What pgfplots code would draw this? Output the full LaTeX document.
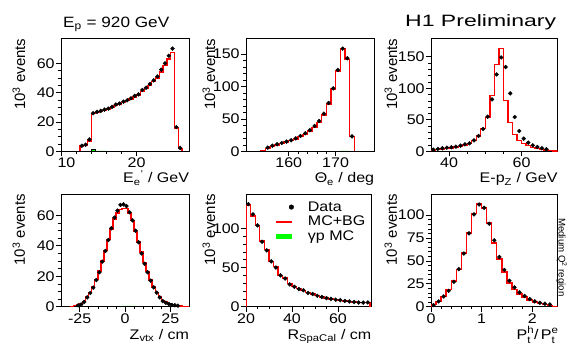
\documentclass[border=0pt]{standalone}
\usepackage{fontspec}
\setmainfont{Liberation Sans}[FakeStretch=1.15]
\newfontfamily\widefont{Liberation Sans}[FakeStretch=1.4]
\newfontfamily\plainfont{Liberation Sans}
\usepackage{pgfplots}
\pgfplotsset{compat=1.18}
\definecolor{mcred}{RGB}{255,0,0}
\definecolor{gpgreen}{RGB}{0,255,0}
\newcommand\tfont{\fontsize{14}{14}\selectfont}
\newcommand\ylfont{\plainfont\fontsize{15}{15}\selectfont}
\newcommand\ssz{\fontsize{10}{10}\selectfont}
\newcommand\supsub[2]{$\mbox{P}^{\mbox{\ssz #1}}_{\mbox{\ssz #2}}$}
\pgfplotsset{
  h1/.style={
    scale only axis, anchor=south west, ymin=0,
    axis line style={line width=0.8bp},
    tick style={black, line width=0.6bp},
    tick align=outside, tick pos=left,
    major tick length=5bp, minor tick length=2.7bp,
    /pgf/number format/assume math mode=true,
    tick label style={font=\tfont},
    xticklabel style={inner sep=1.5bp},
    yticklabel style={inner sep=1.2bp},
    xlabel style={font=\tfont, anchor=base east, inner sep=0pt},
    ylabel style={font=\ylfont, anchor=base east, inner sep=0pt},
    ylabel={10\textsuperscript{3} events},
  },
  mc/.style={draw=mcred, color=mcred, line width=1.4bp, const plot mark left, mark=none},
  dat/.style={only marks, mark=*, mark size=1.95bp, black},
  gp/.style={draw=black, fill=gpgreen, line width=0.4bp, const plot mark left, mark=none},
}
\begin{document}
\begin{tikzpicture}[x=1bp,y=1bp]
\path[use as bounding box] (0,0) rectangle (580,357);

% ---------------- Panel 1: E_e'
\begin{axis}[h1, at={(61bp,205.7bp)}, width=128.3bp, height=112.8bp,
  xmin=10, xmax=26.96, ymax=77,
  xtick={10,20}, xticklabels={\hspace*{11bp}10,20}, minor x tick num=4,
  ytick={0,20,40,60}, minor y tick num=3,
  xlabel={E\textsubscript{e}\textsuperscript{'} / GeV},
  xlabel style={at={(rel axis cs:1,-0.281)}},
  ylabel style={at={(rel axis cs:-0.2806,1)}}]
\addplot[gp] coordinates {(14,0)(14,1.3)(14.5,0.35)(16,0)} \closedcycle;
\addplot[mc] coordinates {(12.5,0)(12.5,3.5)(13,4)(13.5,7)(14,26)(14.5,26.5)(15,27.2)(15.5,28)(16,28.8)(16.5,29.8)(17,31.2)(17.5,32.2)(18,33.5)(18.5,34.5)(19,35.8)(19.5,37.2)(20,38.5)(20.5,41)(21,42.8)(21.5,45)(22,47.5)(22.5,50)(23,54)(23.5,58.5)(24,63)(24.5,67.5)(25,16)(25.5,2)(26,0)};
\addplot[dat] coordinates {(12.75,3.8)(13.25,4.5)(13.75,8.1)(14.25,26)(14.75,26.9)(15.25,27.6)(15.75,28.5)(16.25,29.2)(16.75,30.3)(17.25,31.9)(17.75,32.6)(18.25,33.9)(18.75,34.8)(19.25,36.2)(19.75,37.8)(20.25,38.9)(20.75,41.9)(21.25,43.4)(21.75,45.9)(22.25,48.4)(22.75,51.1)(23.25,55.7)(23.75,60)(24.25,65.2)(24.75,70.1)(25.25,16.5)(25.75,2.3)};
\end{axis}

% ---------------- Panel 2: Theta_e
\begin{axis}[h1, at={(246bp,205.7bp)}, width=128.3bp, height=112.8bp,
  xmin=150.87, xmax=178.26, ymax=173.8,
  xtick={160,170}, minor x tick num=4,
  ytick={0,50,100,150}, minor y tick num=4,
  xlabel={Θ\textsubscript{e} / deg},
  xlabel style={at={(rel axis cs:1,-0.281)}},
  ylabel style={at={(rel axis cs:-0.2416,1)}}]
\addplot[gp] coordinates {(171,0)(171,0.8)(172,0.8)(173,0)} \closedcycle;
\addplot[mc] coordinates {(154,0)(154,1.5)(155,4.5)(156,7.5)(157,10)(158,12)(159,14.5)(160,16.5)(161,19)(162,22.5)(163,26)(164,31)(165,37)(166,44)(167,56)(168,73)(169,96)(170,124)(171,158.5)(172,141.5)(173,23)(174,0)};
\addplot[dat] coordinates {(155.5,5.6)(156.5,8.7)(157.5,10.8)(158.5,12.8)(159.5,14.9)(160.5,16.9)(161.5,20)(162.5,23.6)(163.5,27.7)(164.5,32.4)(165.5,39)(166.5,46.7)(167.5,58)(168.5,74.5)(169.5,97)(170.5,125.3)(171.5,158.2)(172.5,143.3)(173.5,23.1)};
\end{axis}

% ---------------- Panel 3: E-pz
\begin{axis}[h1, at={(431bp,205.7bp)}, width=126.7bp, height=112.8bp,
  xmin=35, xmax=70, ymax=179,
  xtick={40,60}, minor x tick num=3,
  ytick={0,50,100,150}, minor y tick num=4,
  xlabel={E-p\textsubscript{Z} / GeV},
  xlabel style={at={(rel axis cs:1,-0.281)}},
  ylabel style={at={(rel axis cs:-0.268,1)}}]
\addplot[mc] coordinates {(35,0)(35,2)(36.25,2.8)(37.5,3.5)(38.75,4.5)(40,5.5)(41.25,6.8)(42.5,8)(43.75,10)(45,12.5)(46.25,17)(47.5,24)(48.75,36)(50,54)(51.25,88.7)(52.5,138)(53.75,163)(55,80.3)(56.25,45.4)(57.5,27)(58.75,17.4)(60,12.5)(61.25,9)(62.5,6.5)(63.75,4.5)(65,3)(66.25,2)(67.5,1)(68.75,0.3)(70,0)};
\addplot[dat] coordinates {(35.625,2.6)(36.875,3.7)(38.125,4.8)(39.375,5.8)(40.625,6.3)(41.875,7.4)(43.125,9)(44.375,11.1)(45.625,12.7)(46.875,17.4)(48.125,24.3)(49.375,35.4)(50.625,54.9)(51.875,82.4)(53.125,122)(54.375,149)(55.625,133.7)(56.875,91.9)(58.125,54.4)(59.375,32.2)(60.625,20.1)(61.875,13.7)(63.125,9.5)(64.375,6.9)(65.625,4.8)(66.875,3.2)};
\end{axis}

% ---------------- Panel 4: Z_vtx
\begin{axis}[h1, at={(61bp,50.3bp)}, width=128.3bp, height=112.7bp,
  xmin=-35.3, xmax=35.47, ymax=74,
  xtick={-25,0,25}, minor x tick num=4,
  ytick={0,20,40,60}, minor y tick num=3,
  xlabel={Z\textsubscript{vtx} / cm},
  xlabel style={at={(rel axis cs:1,-0.293)}},
  ylabel style={at={(rel axis cs:-0.2806,1)}}]
\addplot[gp] coordinates {(-1.667,0)(-1.667,0.5)(0,0.5)(1.667,0.5)(3.333,0.5)(5,0.5)(6.667,0)} \closedcycle;
\addplot[mc] coordinates {(-30,0)(-30,0.3)(-28.333,0.6)(-26.667,1.0)(-25,1.8)(-23.333,3.3)(-21.667,6.3)(-20,9.5)(-18.333,13)(-16.667,18)(-15,23.5)(-13.333,30)(-11.667,37)(-10,44)(-8.333,51)(-6.667,57.5)(-5,61.5)(-3.333,64)(-1.667,64.5)(0,64.3)(1.667,61.5)(3.333,56.7)(5,49.5)(6.667,42.5)(8.333,36)(10,29)(11.667,23)(13.333,17.5)(15,13)(16.667,9.5)(18.333,6.5)(20,4.2)(21.667,3)(23.333,2)(25,1.3)(26.667,0.9)(28.333,0.7)(30,0.5)(31.667,0.3)(33.333,0.2)(35,0)};
\addplot[dat] coordinates {(-25.833,0.9)(-24.167,1.5)(-22.5,3.1)(-20.833,6.1)(-19.167,9.0)(-17.5,12.5)(-15.833,17.5)(-14.167,22.6)(-12.5,29.6)(-10.833,36.6)(-9.167,43.8)(-7.5,51.5)(-5.833,58.5)(-4.167,63.1)(-2.5,66.8)(-0.833,67.2)(0.833,66.1)(2.5,62)(4.167,56.7)(5.833,49.9)(7.5,42.3)(9.167,35)(10.833,28.2)(12.5,22.6)(14.167,17.1)(15.833,12.7)(17.5,9.2)(19.167,6.1)(20.833,3.7)(22.5,2.6)(24.167,1.8)(25.833,1.1)(27.5,0.9)(29.167,0.7)};
\end{axis}

% ---------------- Panel 5: R_SpaCal
\begin{axis}[h1, at={(246bp,50.3bp)}, width=125.5bp, height=112.7bp,
  xmin=20, xmax=74.6, ymax=144,
  xtick={20,40,60}, minor x tick num=3,
  ytick={0,50,100}, minor y tick num=4,
  xlabel={R\textsubscript{SpaCal} / cm},
  xlabel style={at={(rel axis cs:1,-0.293)}},
  ylabel style={at={(rel axis cs:-0.247,1)}},
  legend style={at={(rel axis cs:0.239,0.935)}, anchor=north west, draw=none, fill=none,
    font=\tfont, inner sep=0pt, row sep=3.5bp, nodes={inner sep=0pt},
    /tikz/every odd column/.append style={column sep=14bp}},
  legend cell align=left]
\addlegendimage{legend image code/.code={\path[draw=none,fill=none] (0,-2.5bp) rectangle (17bp,2.5bp); \fill[black] (15bp,0) circle (2.3bp);}}
\addlegendentry{Data}
\addlegendimage{legend image code/.code={\path[draw=none,fill=none] (0,-2.5bp) rectangle (17bp,2.5bp); \fill[mcred] (0,-0.75bp) rectangle (15bp,0.75bp);}}
\addlegendentry{MC+BG}
\addlegendimage{legend image code/.code={\path[draw=none,fill=none] (0,-2.5bp) rectangle (17bp,2.5bp); \fill[gpgreen] (0,-2bp) rectangle (15bp,2bp);}}
\addlegendentry{γp MC}
\addplot[gp, forget plot] coordinates {(20,0)(20,0.7)(22,0.7)(24,0.7)(26,0)} \closedcycle;
\addplot[mc, forget plot] coordinates {(20,0)(20,130)(22,116)(24,104)(26,84)(28,73)(30,58)(32,51)(34,40)(36,36.5)(38,29.5)(40,26)(42,23)(44,20.5)(46,18)(48,16)(50,14)(52,12.5)(54,11)(56,10)(58,9)(60,8.3)(62,7.2)(64,6.5)(66,6)(68,5.5)(70,5.2)(72,5.2)(74,0)};
\addplot[dat, forget plot] coordinates {(21,131)(23,118)(25,104)(27,83)(29,72)(31,58)(33,50)(35,40)(37,36)(39,28.5)(41,25.5)(43,22.5)(45,21)(47,17.6)(49,16.3)(51,14)(53,12.5)(55,11)(57,10)(59,9)(61,8.3)(63,7.4)(65,6.7)(67,6)(69,5.3)(71,5.3)(73,5.5)};
\end{axis}

% ---------------- Panel 6: Pt ratio
\begin{axis}[h1, at={(431bp,50.3bp)}, width=126.5bp, height=112.7bp,
  xmin=0, xmax=2.5, ymax=123,
  xtick={0,1,2}, minor x tick num=4,
  ytick={0,25,50,75,100}, minor y tick num=4,
  xlabel={\supsub{h}{t}/\,\supsub{e}{t}},
  xlabel style={at={(rel axis cs:1.01,-0.293)}},
  ylabel style={at={(rel axis cs:-0.269,1)}}]
\addplot[mc] coordinates {(0,0)(0,2.5)(0.1,5.8)(0.2,10.9)(0.3,18.8)(0.4,27.9)(0.5,40.6)(0.6,58.7)(0.7,80.4)(0.8,101.4)(0.9,112)(1.0,107.6)(1.1,91.3)(1.2,69.6)(1.3,52.2)(1.4,38)(1.5,26)(1.6,18.8)(1.7,14)(1.8,10.5)(1.9,7.5)(2.0,5)(2.1,3.5)(2.2,2.5)(2.3,1.5)(2.4,0.5)(2.5,0)};
\addplot[dat] coordinates {(0.05,1.8)(0.15,5.8)(0.25,11.2)(0.35,17.4)(0.45,27.2)(0.55,41)(0.65,58)(0.75,80)(0.85,100.7)(0.95,111.6)(1.05,108)(1.15,90.6)(1.25,72.5)(1.35,54.3)(1.45,40.2)(1.55,28.3)(1.65,21)(1.75,15.6)(1.85,11.6)(1.95,8.3)(2.05,5.8)(2.15,4.3)(2.25,3.3)(2.35,2.5)};
\end{axis}

% ---------------- titles
\node[anchor=base west, inner sep=0pt, font={\fontsize{15}{15}\selectfont}] at (63bp,329.7bp) {E\textsubscript{p} = 920 GeV};
\node[anchor=base west, inner sep=0pt, font={\widefont\fontsize{16.5}{16.5}\selectfont}] at (405bp,330.3bp) {H1 Preliminary};
\node[rotate=-90, anchor=base west, inner sep=0pt, font={\plainfont\fontsize{9.7}{9.7}\selectfont}] at (558.5bp,139bp) {Medium Q\textsuperscript{2} region};
\end{tikzpicture}
\end{document}
